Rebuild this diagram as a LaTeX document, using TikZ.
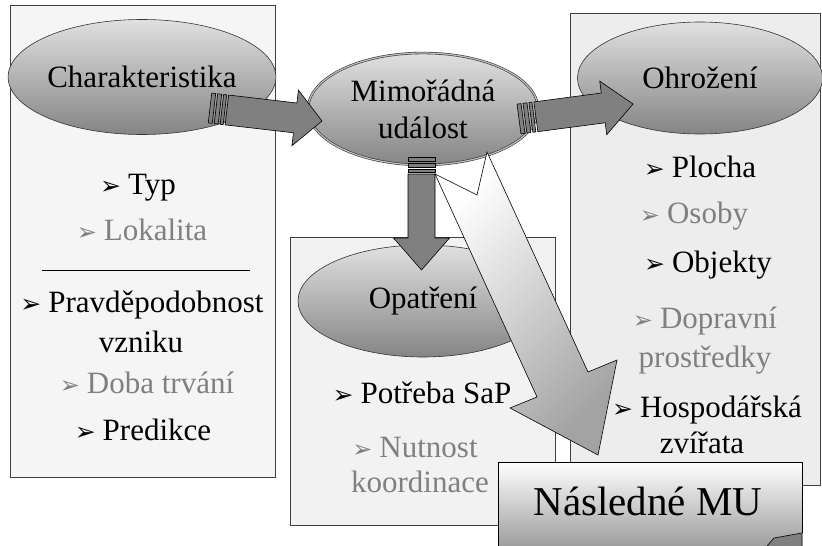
\documentclass[tikz,border=0pt]{standalone}
\usepackage{fontspec}
\setmainfont{Liberation Serif}
\newfontfamily\tms{Liberation Serif}
\newfontfamily\dejavu{DejaVu Sans}
\usetikzlibrary{shapes.geometric,calc}

\tikzset{
 panel/.style={draw=black!75, line width=0.8pt},
 oval/.style={ellipse, draw=black!80, line width=0.6pt, top color=black!12, bottom color=black!48, inner sep=0pt, font=\tms\fontsize{31}{37}\selectfont, align=center},
 blk/.style={fill=black!50, draw=black, line width=0.6pt, line join=miter},
 item/.style={anchor=base, font=\tms\fontsize{31}{37}\selectfont, inner sep=0pt},
 grayitem/.style={item, text=black!50},
}
\newcommand\bul{{\dejavu\fontsize{25}{25}\selectfont ➢}\hspace{7pt}}
\newcommand\gbul{{\dejavu\fontsize{24}{24}\selectfont ➢}\hspace{7pt}}

% striped block arrow: #1 start, #2 tip, #3 half body, #4 half head, #5 head length
\newcommand\stripearrow[5]{%
 \path (#1); \pgfgetlastxy{\sax}{\say}%
 \path (#2); \pgfgetlastxy{\sbx}{\sby}%
 \pgfmathsetmacro\sang{atan2(\sby-\say,\sbx-\sax)}%
 \pgfmathsetmacro\slen{veclen(\sbx-\sax,\sby-\say)}%
 \begin{scope}[shift={(#1)}, rotate=\sang]
  \draw[blk] (0,-#3) rectangle (4,#3);
  \draw[blk] (6,-#3) rectangle (10,#3);
  \draw[blk] (12,-#3) rectangle (15,#3);
  \draw[blk] (17,#3) -- ({\slen-#5},#3) -- ({\slen-#5},#4) -- (\slen,0)
     -- ({\slen-#5},-#4) -- ({\slen-#5},-#3) -- (17,-#3) -- cycle;
 \end{scope}}

\begin{document}
\begin{tikzpicture}[x=1pt,y=1pt]
\useasboundingbox (0,0) rectangle (822,-546);
\fill[white] (0,0) rectangle (822,-546);
% panels
\filldraw[panel, fill=black!4] (10,-5) rectangle (275,-477);
\filldraw[panel, fill=black!7] (570,-13) rectangle (820,-485);
\filldraw[panel, fill=black!5] (290,-237) rectangle (555,-525);
\draw[line width=0.8pt] (42,-270) -- (250,-270);
% ellipses
\node[oval, minimum width=250, minimum height=115] (char) at (142,-77) {Charakteristika};
\node[oval, minimum width=245, minimum height=112] (ohr) at (700,-78) {Ohrožení};
\node[oval, minimum width=250, minimum height=112] (opa) at (423,-301) {Opatření};
\node[oval, minimum width=230, minimum height=112, double=black!25, double distance=1.2pt] (mu) at (423,-109) {Mimořádná\\událost};
% dark arrows
\coordinate (a1s) at (210,-108); \coordinate (a1e) at (322,-121);
\coordinate (a2s) at (519,-119); \coordinate (a2e) at (633,-104);
\coordinate (a3s) at (421.5,-157); \coordinate (a3e) at (421.5,-270);
\stripearrow{a1s}{a1e}{15}{28}{27}
\stripearrow{a2s}{a2e}{15}{27}{30}
\stripearrow{a3s}{a3e}{13.5}{28}{32}
% big light arrow
\draw[draw=black, line width=0.6pt, line join=miter, top color=white, bottom color=black!36, shading angle=45]
 (435,-174) -- (477,-195) -- (487,-152) -- (588,-372) -- (617,-360) -- (598,-455) -- (510,-408) -- (537,-397) -- cycle;
% left texts
\node[item] (typ) at (138,-194) {\bul Typ};
\node[grayitem] (lok) at (142,-240) {\gbul Lokalita};
\node[item] (prav) at (142,-312) {\bul Pravděpodobnost};
\node[item] (vzn) at (141,-352) {vzniku};
\node[grayitem] (doba) at (147,-393) {\gbul Doba trvání};
\node[item] (pred) at (143,-440) {\bul Predikce};
% right texts
\node[item] (plo) at (700,-177) {\bul Plocha};
\node[grayitem] (oso) at (694,-223) {\gbul Osoby};
\node[item] (obj) at (708,-272) {\bul Objekty};
\node[grayitem] (dop) at (705,-328) {\gbul Dopravní};
\node[grayitem] (pros) at (705,-367) {prostředky};
\node[item] (hosp) at (707,-417) {\bul Hospodářská};
\node[item] (zvi) at (702,-453) {zvířata};
% middle texts
\node[item] (pot) at (422,-403) {\bul Potřeba SaP};
\node[grayitem] (nut) at (415,-457) {\gbul Nutnost};
\node[grayitem] (koo) at (420,-492) {koordinace};
% follow-up box
\shade[top color=white, bottom color=black!38] (498,-462) rectangle (802,-546);
\draw[line width=0.8pt] (498,-546) -- (498,-462) -- (802,-462) -- (802,-533);
\filldraw[fill=black!50, draw=black, line width=0.6pt] (767,-546) -- (774,-538) -- (802,-533) -- (802,-546);
\node[anchor=base, inner sep=0pt, font=\tms\fontsize{41}{41}\selectfont] (nmu) at (648,-515) {Následné MU};
\end{tikzpicture}
\end{document}
